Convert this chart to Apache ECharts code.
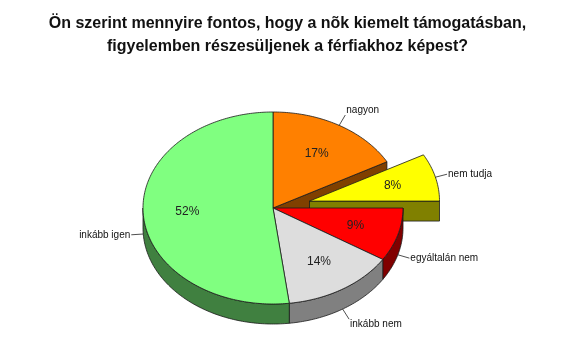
<!DOCTYPE html>
<html>
<head>
<meta charset="utf-8">
<script src="https://cdn.jsdelivr.net/npm/echarts@6/dist/echarts.min.js"></script>
<style>html,body{margin:0;padding:0;background:#fff}#c{width:575px;height:351px}</style>
</head>
<body>
<div id="c"></div>
<script>
// ---- data ----
const titleText = 'Ön szerint mennyire fontos, hogy a nõk kiemelt támogatásban,\nfigyelemben részesüljenek a férfiakhoz képest?';
const categories = ['nagyon', 'nem tudja', 'egyáltalán nem', 'inkább nem', 'inkább igen'];
const values = [17, 8, 9, 14, 52];
const percentLabels = ['17%', '8%', '9%', '14%', '52%'];
const exploded = [0, 1, 0, 0, 0];
const topColors = ['#FF8000', '#FFFF00', '#FF0000', '#DDDDDD', '#80FF80'];
const sideColors = ['#804000', '#808000', '#800000', '#808080', '#408040'];

// ---- layout ----
const CX = 273, CY = 208, RX = 130, RY = 96, DEPTH = 20, EXPLODE = 0.29;
const STROKE = '#1a1a1a';
const total = values.reduce((a, b) => a + b, 0);

function renderItem(params, api) {
  const i = params.dataIndex;
  let cum = 0;
  for (let k = 0; k < i; k++) cum += values[k];
  const s = cum / total * Math.PI * 2;
  const e = (cum + values[i]) / total * Math.PI * 2;
  const m = (s + e) / 2;
  const ex = exploded[i] ? EXPLODE : 0;
  const ox = CX + ex * RX * Math.sin(m);
  const oy = CY - ex * RY * Math.cos(m);
  const P = (t, r, d) => [ox + RX * r * Math.sin(t), oy - RY * r * Math.cos(t) + d];
  const arc = (t0, t1, d) => {
    const n = Math.max(2, Math.ceil(Math.abs(t1 - t0) / (Math.PI / 180)));
    const pts = [];
    for (let j = 0; j <= n; j++) pts.push(P(t0 + (t1 - t0) * j / n, 1, d));
    return pts;
  };
  const zWall = exploded[i] ? 2 : 4;
  const zTop = exploded[i] ? 3 : 5;
  const children = [];
  const prevEx = exploded[(i - 1 + values.length) % values.length];
  const nextEx = exploded[(i + 1) % values.length];
  // radial cut faces
  const cut = (t, z) => children.push({
    type: 'polygon', z2: z,
    shape: { points: [[ox, oy], P(t, 1, 0), P(t, 1, DEPTH), [ox, oy + DEPTH]] },
    style: { fill: sideColors[i], stroke: STROKE, lineWidth: 0.8 }
  });
  if ((exploded[i] || prevEx) && Math.sin(s) < 0) cut(s, exploded[i] ? zWall : 1);
  if ((exploded[i] || nextEx) && Math.sin(e) > 0) cut(e, exploded[i] ? zWall : 1);
  // outer wall (front half only)
  const a0 = Math.max(s, Math.PI / 2), a1 = Math.min(e, Math.PI * 1.5);
  if (a1 > a0) {
    const top = arc(a0, a1, 0), bot = arc(a0, a1, DEPTH).reverse();
    children.push({
      type: 'polygon', z2: zWall,
      shape: { points: top.concat(bot) },
      style: { fill: sideColors[i], stroke: STROKE, lineWidth: 0.8 }
    });
  }
  // top face
  children.push({
    type: 'polygon', z2: zTop,
    shape: { points: [[ox, oy]].concat(arc(s, e, 0)) },
    style: { fill: topColors[i], stroke: STROKE, lineWidth: 0.8 }
  });
  // percent label
  const lp = P(m, 0.66, 0);
  children.push({
    type: 'text', z2: 8, x: lp[0], y: lp[1],
    style: { text: percentLabels[i], fill: '#222', font: '12px "Liberation Sans", Arial, sans-serif', align: 'center', verticalAlign: 'middle' }
  });
  // outer label with leader
  const sm = Math.sin(m), cm = Math.cos(m);
  const anc = P(m, 1, cm < 0 ? DEPTH : 0);
  const end = [anc[0] + 12 * sm, anc[1] - 12 * cm];
  children.push({
    type: 'line', z2: 8,
    shape: { x1: anc[0], y1: anc[1], x2: end[0], y2: end[1] },
    style: { stroke: '#222', lineWidth: 0.8 }
  });
  children.push({
    type: 'text', z2: 8, x: end[0] + (sm >= 0 ? 1 : -1), y: end[1],
    style: {
      text: categories[i], fill: '#111', font: '10px "Liberation Sans", Arial, sans-serif',
      align: sm >= 0 ? 'left' : 'right',
      verticalAlign: cm > 0.5 ? 'bottom' : (cm < -0.5 ? 'top' : 'middle')
    }
  });
  return { type: 'group', children };
}

const chart = echarts.init(document.getElementById('c'), null, { renderer: 'canvas' });
chart.setOption({
  backgroundColor: '#ffffff',
  animation: false,
  title: {
    text: titleText, left: 'center', top: 7,
    textStyle: { fontFamily: '"Liberation Sans", Arial, sans-serif', fontSize: 16, fontWeight: 'bold', color: '#111', lineHeight: 23 }
  },
  series: [{
    type: 'custom',
    coordinateSystem: 'none',
    renderItem: renderItem,
    data: values.map((v, i) => ({ value: v, name: categories[i] }))
  }]
});
</script>
</body>
</html>
